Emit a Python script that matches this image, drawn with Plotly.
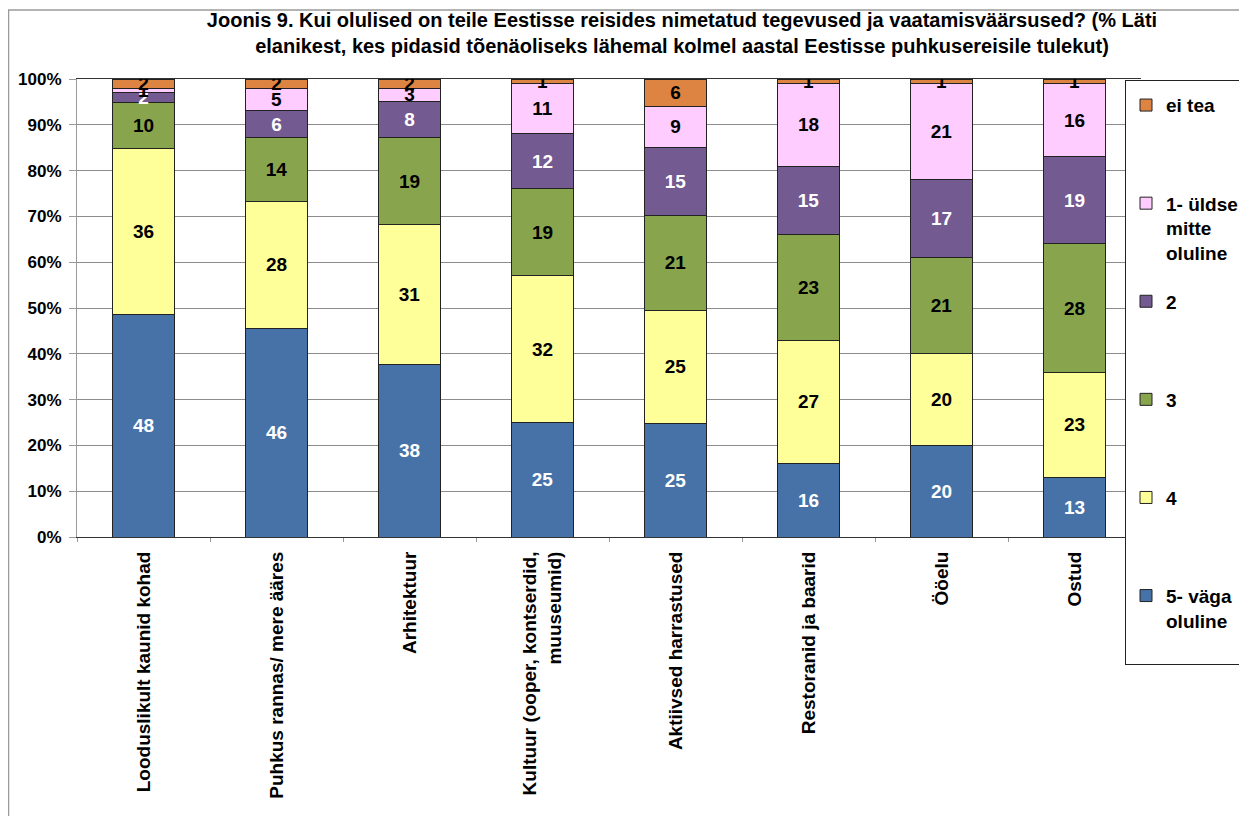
import plotly.graph_objects as go

categories = [
    "Looduslikult kaunid kohad",
    "Puhkus rannas/ mere ääres",
    "Arhitektuur",
    "Kultuur (ooper, kontserdid,<br>muuseumid)",
    "Aktiivsed harrastused",
    "Restoranid ja baarid",
    "Ööelu",
    "Ostud",
]

v5 = [48, 46, 38, 25, 25, 16, 20, 13]      # 5- väga oluline
v4 = [36, 28, 31, 32, 25, 27, 20, 23]      # 4
v3 = [10, 14, 19, 19, 21, 23, 21, 28]      # 3
v2 = [2, 6, 8, 12, 15, 15, 17, 19]         # 2
v1 = [1, 5, 3, 11, 9, 18, 21, 16]          # 1- üldse mitte oluline
v0 = [2, 2, 2, 1, 6, 1, 1, 1]              # ei tea

series_names = [
    "5- väga<br>oluline<br>\u00a0",
    "4<br>\u00a0<br>\u00a0",
    "3<br>\u00a0<br>\u00a0",
    "2<br>\u00a0<br>\u00a0",
    "1- üldse<br>mitte<br>oluline",
    "ei tea<br>\u00a0<br>\u00a0",
]
series_values = [v5, v4, v3, v2, v1, v0]
series_colors = ["#4672A8", "#FFFF99", "#88A54D", "#735A91", "#FFCCFF", "#DD8442"]
text_colors = ["white", "black", "black", "white", "black", "black"]

FONT = "Liberation Sans, Arial, sans-serif"

# the page body has an 8px margin, so the figure is sized to fit the window
W, H = 1239, 808
L, R, T, B = 69, 106, 71, 279

fig = go.Figure()
n = len(series_names)
for i, (name, vals, col, tcol) in enumerate(zip(series_names, series_values, series_colors, text_colors)):
    fig.add_trace(go.Bar(
        x=categories,
        y=vals,
        name=name,
        legendgroup=f"g{i}",
        legendrank=n - i,
        marker=dict(color=col, line=dict(color="#222222", width=1)),
        text=[str(v) for v in vals],
        textposition="inside",
        insidetextanchor="middle",
        textangle=0,
        textfont=dict(family=FONT, size=19, color=tcol, weight="bold"),
        constraintext="none",
        hoverinfo="skip",
    ))

pw = W - L - R
ph = H - T - B

fig.update_layout(
    width=W,
    height=H,
    barmode="stack",
    barnorm="percent",
    bargap=0.54,
    paper_bgcolor="white",
    plot_bgcolor="white",
    margin=dict(l=L, r=R, t=T, b=B, autoexpand=False),
    uniformtext=dict(minsize=19, mode="show"),
    title=dict(
        text="Joonis 9. Kui olulised on teile Eestisse reisides nimetatud tegevused ja vaatamisväärsused? (% Läti<br>elanikest, kes pidasid tõenäoliseks lähemal kolmel aastal Eestisse puhkusereisile tulekut)",
        x=0.544, xref="container", xanchor="center",
        y=0.976, yref="container", yanchor="top",
        font=dict(family=FONT, size=20, color="black", weight="bold"),
    ),
    legend=dict(
        x=(1117 - L) / pw, xanchor="left", y=0.9978, yanchor="top",
        traceorder="grouped",
        tracegroupgap=21,
        valign="top",
        maxheight=700,
        title=dict(text="\u00a0", font=dict(size=4)),
        bordercolor="#222222", borderwidth=1,
        bgcolor="white",
        font=dict(family=FONT, size=19, color="black", weight="bold"),
    ),
    showlegend=True,
)

fig.update_yaxes(
    range=[0, 100],
    tickvals=[0, 10, 20, 30, 40, 50, 60, 70, 80, 90, 100],
    ticktext=["0%", "10%", "20%", "30%", "40%", "50%", "60%", "70%", "80%", "90%", "100%"],
    showgrid=True, gridcolor="#8C8C8C", gridwidth=1,
    showline=True, linecolor="#9A9A9A", linewidth=1,
    ticks="outside", ticklen=7, tickcolor="#9A9A9A",
    ticklabelstandoff=4,
    tickfont=dict(family=FONT, size=17, color="black", weight="bold"),
    zeroline=False,
)
fig.update_xaxes(
    tickangle=-90,
    tickson="boundaries",
    ticks="outside", ticklen=4, tickcolor="#9A9A9A",
    ticklabelstandoff=6,
    showline=True, linecolor="#333333", linewidth=1, mirror=True,
    tickfont=dict(family=FONT, size=19, color="black", weight="bold"),
)

# outer chart border (partially visible in the reference)
fig.add_shape(type="rect", xref="paper", yref="paper",
              x0=(0.5 - L) / pw, x1=2.0, y0=-2.0, y1=(H - B - 2) / ph,
              line=dict(color="#9A9A9A", width=1.5), fillcolor="rgba(0,0,0,0)", layer="below")

fig.write_html("out.html")
